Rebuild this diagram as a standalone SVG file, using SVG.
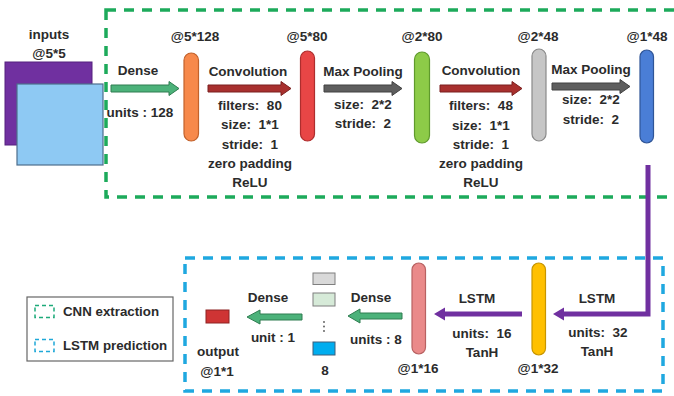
<svg xmlns="http://www.w3.org/2000/svg" width="674" height="396" viewBox="0 0 674 396">
  <style>
    text { font-family: "Liberation Sans", Arial, sans-serif; font-weight: bold; font-size: 13.5px; fill: #2b2b2b; text-anchor: middle; }
    .leg { text-anchor: start; font-size: 13.3px; }
    .pill { stroke-width: 1.2; }
    .arr-green { fill: #4CB27A; stroke: #2E7D50; stroke-width: 1; }
    .arr-red { fill: #A8302E; stroke: #7A1F1E; stroke-width: 1; }
    .arr-gray { fill: #5E5E5E; stroke: #404040; stroke-width: 1; }
    .arr-purple { fill: #7030A0; stroke: none; }
    .cnn-frame { fill: none; stroke: #1DAA5B; stroke-width: 3.5; stroke-dasharray: 10 8; }
    .lstm-frame { fill: none; stroke: #1FA8E0; stroke-width: 3.5; stroke-dasharray: 10 8; }
  </style>

  <rect width="674" height="396" fill="#ffffff"/>

  <!-- stage frames -->
  <g id="cnn-frame">
    <rect class="cnn-frame" x="106" y="10" width="574" height="187"/>
  </g>

  <!-- input feature maps -->
  <g id="inputs">
    <rect x="5" y="62" width="87" height="83" fill="#7030A0" stroke="#55207F" stroke-width="1"/>
    <rect x="17" y="84" width="86" height="81" fill="#8EC9F3" stroke="#4D6E8C" stroke-width="1.2"/>
    <text x="49" y="39">inputs</text>
    <text x="49" y="58">@5*5</text>
  </g>

  <!-- connectors -->
  <g id="connectors">
    <!-- Dense -->
    <polygon class="arr-green" points="111,85 169,85 169,81.5 179,88.5 169,95.5 169,92 111,92"/>
    <!-- Convolution 1 -->
    <polygon class="arr-red" points="208,85 281,85 281,81.5 291,88.5 281,95.5 281,92 208,92"/>
    <!-- Max Pooling 1 -->
    <polygon class="arr-gray" points="324,85 392,85 392,81.5 402,88.5 392,95.5 392,92 324,92"/>
    <!-- Convolution 2 -->
    <polygon class="arr-red" points="440,85 512,85 512,81.5 522,88.5 512,95.5 512,92 440,92"/>
    <!-- Max Pooling 2 -->
    <polygon class="arr-gray" points="552,83 620,83 620,79.5 630,86.5 620,93.5 620,90 552,90"/>
    <!-- CNN output into LSTM 1 -->
    <polyline points="648,165 648,314 563,314" fill="none" stroke="#7030A0" stroke-width="5"/>
    <polygon class="arr-purple" points="564,307.5 553,314 564,320.5"/>
    <!-- LSTM 2 -->
    <polygon class="arr-purple" points="522,311.5 445,311.5 445,307.5 434,314 445,320.5 445,316.5 522,316.5"/>
    <!-- Dense units 8 -->
    <polygon class="arr-green" points="402,313 360,313 360,309 348,316 360,323 360,319 402,319"/>
    <!-- Dense unit 1 -->
    <polygon class="arr-green" points="302,314 260,314 260,310 247,317 260,324 260,320 302,320"/>
  </g>

  <g id="lstm-frame">
    <rect class="lstm-frame" x="185" y="258" width="478" height="133"/>
  </g>

  <!-- arrow labels -->
  <g id="edge-labels">
    <text x="138" y="75">Dense</text>
    <text x="140" y="117">units : 128</text>

    <text x="248" y="76">Convolution</text>
    <text x="250" y="110">filters:&#160; 80</text>
    <text x="250" y="129">size:&#160; 1*1</text>
    <text x="250" y="149">stride:&#160; 1</text>
    <text x="250" y="168">zero padding</text>
    <text x="250" y="187">ReLU</text>

    <text x="363" y="76">Max Pooling</text>
    <text x="363" y="109">size:&#160; 2*2</text>
    <text x="363" y="128">stride:&#160; 2</text>

    <text x="481" y="75">Convolution</text>
    <text x="481" y="110">filters:&#160; 48</text>
    <text x="481" y="130">size:&#160; 1*1</text>
    <text x="481" y="149">stride:&#160; 1</text>
    <text x="481" y="168">zero padding</text>
    <text x="481" y="187">ReLU</text>

    <text x="591" y="74">Max Pooling</text>
    <text x="591" y="104">size:&#160; 2*2</text>
    <text x="591" y="124">stride:&#160; 2</text>

    <text x="597" y="303">LSTM</text>
    <text x="598" y="337">units:&#160; 32</text>
    <text x="597" y="356">TanH</text>

    <text x="477" y="303">LSTM</text>
    <text x="482" y="338">units:&#160; 16</text>
    <text x="482" y="357">TanH</text>

    <text x="371" y="302">Dense</text>
    <text x="376" y="344">units : 8</text>

    <text x="268" y="302">Dense</text>
    <text x="273" y="342">unit : 1</text>
  </g>

  <!-- layer nodes -->
  <g id="dense-128">
    <rect class="pill" x="184" y="53" width="14.5" height="88" rx="7.25" fill="#F7894B" stroke="#C2622C"/>
    <text x="195" y="41">@5*128</text>
  </g>
  <g id="conv-80">
    <rect class="pill" x="300.5" y="51" width="14" height="90" rx="7" fill="#E84646" stroke="#AE2E2E"/>
    <text x="307" y="41">@5*80</text>
  </g>
  <g id="pool-80">
    <rect class="pill" x="414.5" y="52" width="15" height="91" rx="7.5" fill="#8DCB48" stroke="#5F9A2C"/>
    <text x="422" y="41">@2*80</text>
  </g>
  <g id="conv-48">
    <rect class="pill" x="532" y="49" width="14" height="92" rx="7" fill="#C6C6C6" stroke="#8A8A8A"/>
    <text x="538" y="41">@2*48</text>
  </g>
  <g id="pool-48">
    <rect class="pill" x="640" y="50" width="13.5" height="93" rx="6.75" fill="#4A7ED6" stroke="#2F5597"/>
    <text x="647" y="41">@1*48</text>
  </g>
  <g id="lstm-32">
    <rect class="pill" x="532" y="263" width="13.5" height="92" rx="6.75" fill="#FFC000" stroke="#C79500"/>
    <text x="538" y="373">@1*32</text>
  </g>
  <g id="lstm-16">
    <rect class="pill" x="412" y="263" width="13.5" height="91" rx="6.75" fill="#EA8A8A" stroke="#B86262"/>
    <text x="418" y="373">@1*16</text>
  </g>
  <g id="dense-8">
    <rect x="313" y="273" width="22" height="11.5" fill="#D9D9D9" stroke="#7F7F7F" stroke-width="1"/>
    <rect x="313" y="293" width="22" height="13" fill="#D6EAD8" stroke="#7F7F7F" stroke-width="1"/>
    <circle cx="324" cy="322" r="0.9" fill="#555"/>
    <circle cx="324" cy="326.5" r="0.9" fill="#555"/>
    <circle cx="324" cy="331" r="0.9" fill="#555"/>
    <rect x="313" y="342" width="22" height="13" fill="#00ADEF" stroke="#3F5F7A" stroke-width="1"/>
    <text x="325" y="375">8</text>
  </g>
  <g id="output">
    <rect x="206" y="310" width="23" height="13" fill="#CF3434" stroke="#8E2222" stroke-width="1"/>
    <text x="218" y="356">output</text>
    <text x="217" y="376">@1*1</text>
  </g>

  <!-- legend -->
  <g id="legend">
    <rect x="27" y="297" width="146" height="64" fill="#ffffff" stroke="#666666" stroke-width="1.2"/>
    <rect x="35" y="305.5" width="19" height="12" fill="none" stroke="#1DAA7A" stroke-width="1.5" stroke-dasharray="4 3"/>
    <text class="leg" x="63" y="316">CNN extraction</text>
    <rect x="35" y="339.5" width="19" height="12" fill="none" stroke="#1FA8D8" stroke-width="1.5" stroke-dasharray="4 3"/>
    <text class="leg" x="63" y="350">LSTM prediction</text>
  </g>
</svg>
